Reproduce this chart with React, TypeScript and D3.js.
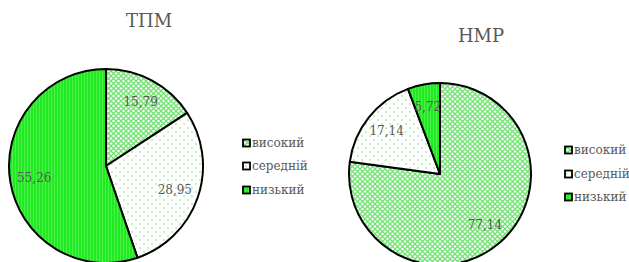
import React from "react";
import * as d3 from "d3";

const categories = ["високий", "середній", "низький"];
const tpmValues = [15.79, 28.95, 55.26];
const nmrValues = [77.14, 17.14, 5.72];
const tpmLabels = ["15,79", "28,95", "55,26"];
const nmrLabels = ["77,14", "17,14", "5,72"];
const titles = ["ТПМ", "НМР"];

const FONT = "'DejaVu Serif', serif";
const TEXT = "#595959";

function Patterns() {
  return (
    <defs>
      <pattern id="p-high" width="5" height="5" patternUnits="userSpaceOnUse">
        <rect width="5" height="5" fill="#ffffff" />
        <path d="M0,0 L5,5 M5,0 L0,5" stroke="#72e372" strokeWidth="1.3" />
      </pattern>
      <pattern id="p-mid" width="8" height="8" patternUnits="userSpaceOnUse">
        <rect width="8" height="8" fill="#ffffff" />
        <circle cx="2" cy="2" r="0.8" fill="#7ee07e" />
        <circle cx="6" cy="6" r="0.8" fill="#7ee07e" />
      </pattern>
      <pattern id="p-low" width="3" height="3" patternUnits="userSpaceOnUse">
        <rect width="3" height="3" fill="#22ea22" />
        <rect x="2" width="1" height="3" fill="#4ef04e" />
      </pattern>
    </defs>
  );
}

const fills = ["url(#p-high)", "url(#p-mid)", "url(#p-low)"];

function Pie({ values, labels, cx, cy, r }: { values: number[]; labels: string[]; cx: number; cy: number; r: number }) {
  const pie = d3.pie<number>().sort(null).value((d) => d);
  const arcs = pie(values);
  const arc = d3.arc<d3.PieArcDatum<number>>().innerRadius(0).outerRadius(r);
  const labelArc = d3.arc<d3.PieArcDatum<number>>().innerRadius(r * 0.75).outerRadius(r * 0.75);
  return (
    <g transform={`translate(${cx},${cy})`}>
      {arcs.map((a, i) => (
        <path key={i} d={arc(a) || ""} fill={fills[i]} stroke="#000" strokeWidth={2} strokeLinejoin="round" />
      ))}
      {arcs.map((a, i) => {
        const [x, y] = labelArc.centroid(a);
        return (
          <text key={"l" + i} x={x} y={y} textAnchor="middle" dominantBaseline="central" fontFamily={FONT} fontSize={12} fill={TEXT}>
            {labels[i]}
          </text>
        );
      })}
    </g>
  );
}

function Legend({ x, ys }: { x: number; ys: number[] }) {
  return (
    <g>
      {categories.map((c, i) => (
        <g key={c}>
          <rect x={x} y={ys[i] - 3.5} width={7} height={7} fill={fills[i]} stroke="#000" strokeWidth={1.8} />
          <text x={x + 9} y={ys[i]} dominantBaseline="central" fontFamily={FONT} fontSize={12} fill={TEXT}>
            {c}
          </text>
        </g>
      ))}
    </g>
  );
}

export default function App() {
  return (
    <svg width={629} height={262} style={{ position: "absolute", left: 0, top: 0, background: "#fff" }}>
      <Patterns />
      <rect width={629} height={262} fill="#fff" />
      <text x={149} y={27} textAnchor="middle" fontFamily={FONT} fontSize={18} fill={TEXT}>{titles[0]}</text>
      <text x={481} y={42} textAnchor="middle" fontFamily={FONT} fontSize={18} fill={TEXT}>{titles[1]}</text>
      <Pie values={tpmValues} labels={tpmLabels} cx={106} cy={166} r={97} />
      <Pie values={nmrValues} labels={nmrLabels} cx={440} cy={174} r={91} />
      <Legend x={243} ys={[143, 166, 190]} />
      <Legend x={565} ys={[150, 174, 197]} />
    </svg>
  );
}
